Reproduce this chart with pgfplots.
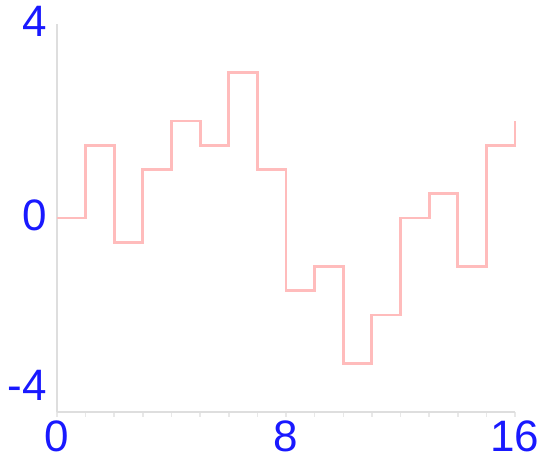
\documentclass[border=0pt]{standalone}
\usepackage{fontspec}
\setmainfont{Liberation Sans}
\usepackage{pgfplots}
\pgfplotsset{compat=1.18}
\definecolor{stepc}{RGB}{255,188,188}
\definecolor{axc}{RGB}{222,222,222}
\definecolor{lblc}{RGB}{25,25,255}
\begin{document}
\begin{tikzpicture}
\path[use as bounding box] (-57pt,-49pt) rectangle (483pt,412pt);
\begin{axis}[
  scale only axis,
  width=458pt, height=388pt,
  xmin=0, xmax=16, ymin=-4, ymax=4,
  axis x line*=bottom, axis y line*=left,
  axis line style={draw=axc, line width=2pt, -},
  xtick={0,8,16}, ytick={0,4},
  extra y ticks={-4},
  extra y tick style={yticklabel style={yshift=24pt}},
  minor x tick num=7,
  tick align=outside,
  major tick length=5pt, minor tick length=5pt,
  x tick style={draw=axc!70, line width=1.5pt},
  y tick style={draw=none},
  /pgf/number format/assume math mode=true,
  tick label style={font=\fontsize{44}{44}\selectfont, text=lblc, inner sep=0pt},
  xticklabel style={anchor=north, yshift=-4pt},
  yticklabel style={anchor=east, xshift=-5pt, yshift=3pt},
  clip=false,
]
\addplot[const plot mark left, draw=stepc, line width=2.8pt, mark=none] coordinates {
(0,0) (1,1.5) (2,-0.5) (3,1) (4,2) (5,1.5) (6,3) (7,1) (8,-1.5) (9,-1)
(10,-3) (11,-2) (12,0) (13,0.5) (14,-1) (15,1.5) (16,2)
};
\end{axis}
\end{tikzpicture}
\end{document}
